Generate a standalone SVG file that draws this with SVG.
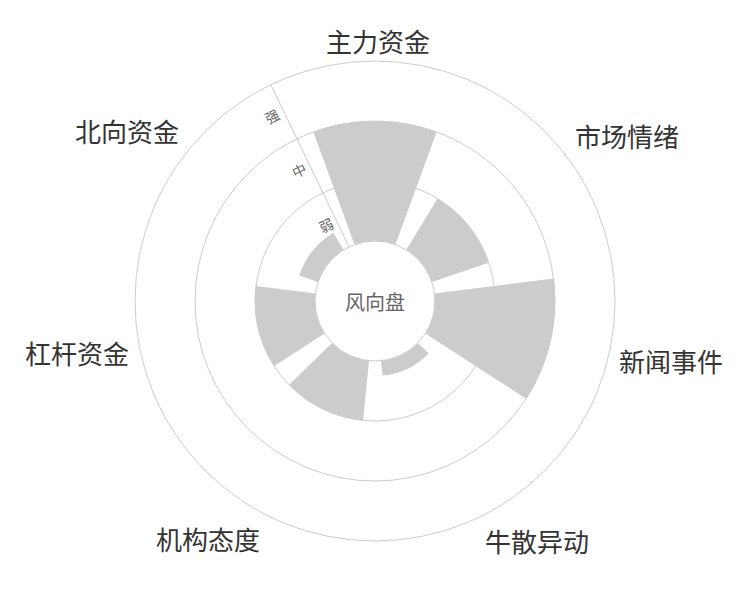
<svg xmlns="http://www.w3.org/2000/svg" width="750" height="600" viewBox="0 0 750 600">
<style>
.ring{fill:none;stroke:#cccccc;stroke-width:1}
.bar{fill:#cccccc;stroke:#ffffff;stroke-width:0}
.cat{font-family:"Noto Sans CJK SC","Noto Sans",sans-serif;font-size:26px;fill:#333333;text-anchor:middle;dominant-baseline:central}
.lvl{font-family:"Noto Sans CJK SC",sans-serif;font-size:14px;fill:#666666;text-anchor:middle;dominant-baseline:central}
</style>
<rect width="750" height="600" fill="#ffffff"/>
<g id="grid">
<circle class="ring" cx="375" cy="301" r="240"/>
<circle class="ring" cx="375" cy="301" r="180"/>
<circle class="ring" cx="375" cy="301" r="120"/>
<circle class="ring" cx="375" cy="301" r="60"/>
</g>
<g id="bars">
<path id="bar-zhuli" class="bar" d="M313.4,131.9 A180,180 0 0 1 436.6,131.9 L395.5,244.6 A60,60 0 0 0 354.5,244.6 Z"/>
<path id="bar-shichang" class="bar" d="M437.6,198.6 A120,120 0 0 1 488.7,262.8 L431.9,281.9 A60,60 0 0 0 406.3,249.8 Z"/>
<path id="bar-xinwen" class="bar" d="M553.6,278.6 A180,180 0 0 1 526.2,398.7 L425.4,333.6 A60,60 0 0 0 434.5,293.5 Z"/>
<path id="bar-niusan" class="bar" d="M428.7,353.4 A75,75 0 0 1 382.5,375.6 L381.0,360.7 A60,60 0 0 0 417.9,342.9 Z"/>
<path id="bar-jigou" class="bar" d="M363.1,420.4 A120,120 0 0 1 289.1,384.8 L332.1,342.9 A60,60 0 0 0 369.0,360.7 Z"/>
<path id="bar-ganggan" class="bar" d="M274.2,366.1 A120,120 0 0 1 255.9,286.1 L315.5,293.5 A60,60 0 0 0 324.6,333.6 Z"/>
<path id="bar-beixiang" class="bar" d="M299.2,275.5 A80,80 0 0 1 333.3,232.7 L343.7,249.8 A60,60 0 0 0 318.1,281.9 Z"/>
</g>
<g id="axis">
<line x1="349.0" y1="246.9" x2="270.9" y2="84.8" stroke="#cccccc" stroke-width="1"/>
<text class="lvl" transform="translate(326,225) rotate(-25.7)">弱</text>
<text class="lvl" transform="translate(299,170) rotate(-25.7)">中</text>
<text class="lvl" transform="translate(272,116) rotate(-25.7)">强</text>
</g>
<g id="center">
<text x="375" y="301" font-family="Noto Sans CJK SC,sans-serif" font-size="20" fill="#666666" text-anchor="middle" dominant-baseline="central">风向盘</text>
</g>
<g id="labels">
<text class="cat" x="378" y="40">主力资金</text>
<text class="cat" x="627" y="135">市场情绪</text>
<text class="cat" x="671" y="360">新闻事件</text>
<text class="cat" x="537" y="540">牛散异动</text>
<text class="cat" x="208" y="538">机构态度</text>
<text class="cat" x="77" y="352">杠杆资金</text>
<text class="cat" x="127" y="130">北向资金</text>
</g>
</svg>
